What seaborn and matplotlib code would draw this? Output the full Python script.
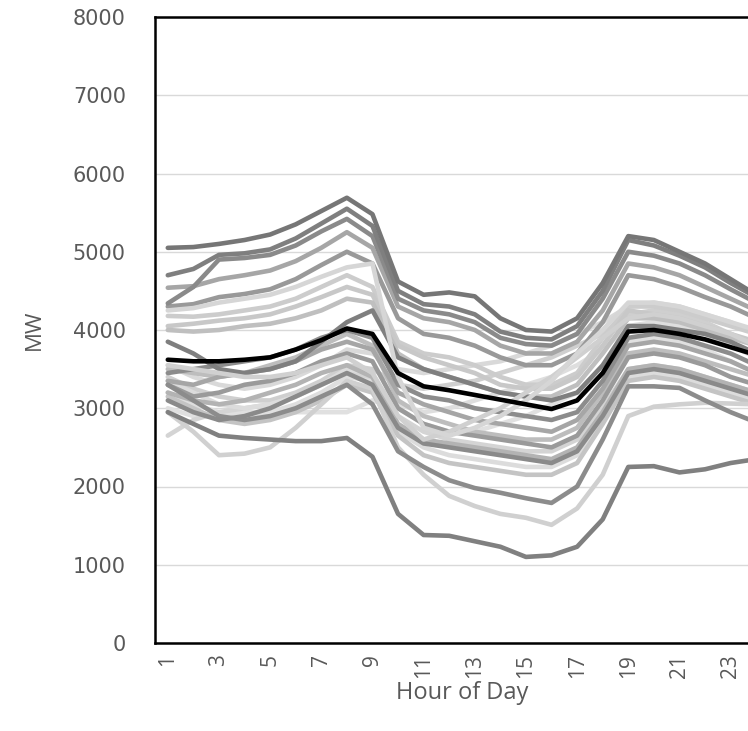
import matplotlib
matplotlib.use("Agg")
import pandas as pd
import matplotlib.pyplot as plt
import seaborn as sns

sns.set_style("white")
plt.rcParams['font.family'] = ['DejaVu Sans']

# ===== DATA =====
hours = list(range(1, 25))

d1 = [5050, 5060, 5100, 5150, 5220, 5350, 5520, 5690, 5480, 4620, 4450, 4480, 4430, 4150, 4000, 3980, 4150, 4600, 5200, 5150, 5000, 4850, 4650, 4450]
d2 = [4700, 4780, 4960, 4980, 5030, 5170, 5360, 5550, 5330, 4500, 4330, 4300, 4200, 3980, 3900, 3880, 4050, 4500, 5150, 5080, 4950, 4800, 4600, 4420]
d3 = [4340, 4550, 4900, 4920, 4960, 5080, 5260, 5420, 5200, 4400, 4250, 4200, 4100, 3900, 3820, 3800, 3950, 4400, 5000, 4950, 4850, 4700, 4520, 4350]
m1 = [4540, 4560, 4650, 4700, 4760, 4880, 5050, 5250, 5050, 4300, 4150, 4100, 4000, 3800, 3700, 3700, 3850, 4250, 4850, 4800, 4700, 4550, 4400, 4250]
m2 = [4300, 4330, 4420, 4460, 4520, 4650, 4830, 5000, 4850, 4150, 3950, 3900, 3800, 3650, 3550, 3550, 3700, 4100, 4700, 4650, 4550, 4420, 4300, 4150]
l1 = [4250, 4280, 4350, 4400, 4450, 4550, 4680, 4800, 4850, 3400, 2750, 2650, 2750, 2900, 3100, 3350, 3700, 4000, 4350, 4350, 4300, 4200, 4100, 4000]
l2 = [4180, 4170, 4200, 4250, 4300, 4400, 4550, 4700, 4550, 3850, 3700, 3650, 3550, 3400, 3300, 3300, 3450, 3900, 4300, 4300, 4250, 4150, 4050, 3950]
l3 = [4050, 4080, 4120, 4150, 4200, 4300, 4420, 4550, 4450, 3800, 3650, 3550, 3450, 3300, 3250, 3250, 3400, 3800, 4250, 4200, 4150, 4050, 3950, 3850]
l4 = [4000, 3980, 4000, 4050, 4080, 4150, 4250, 4400, 4350, 3700, 3500, 3400, 3300, 3200, 3150, 3150, 3300, 3700, 4150, 4150, 4100, 4000, 3900, 3800]
s1 = [3550, 3400, 3300, 3250, 3300, 3400, 3550, 3750, 3700, 3500, 3450, 3500, 3550, 3600, 3700, 3800, 3950, 4100, 4300, 4350, 4300, 4200, 4100, 3950]
s2 = [3400, 3250, 3150, 3100, 3100, 3200, 3350, 3550, 3500, 3300, 3250, 3300, 3350, 3450, 3550, 3650, 3800, 3950, 4200, 4250, 4200, 4100, 3950, 3800]
s3 = [3200, 3050, 2950, 2900, 2950, 3050, 3200, 3400, 3350, 3050, 2950, 3000, 3100, 3200, 3300, 3400, 3550, 3750, 4050, 4100, 4050, 3950, 3800, 3650]
s4 = [3000, 2900, 2950, 2950, 2950, 2950, 2950, 2950, 3100, 3000, 2800, 2700, 2700, 2800, 2900, 3050, 3200, 3450, 3850, 3900, 3850, 3750, 3600, 3450]
s5 = [2650, 2850, 2950, 3000, 3050, 3150, 3300, 3450, 3400, 2900, 2700, 2600, 2550, 2500, 2450, 2450, 2600, 3000, 3500, 3550, 3500, 3400, 3300, 3200]
w1 = [3850, 3700, 3500, 3450, 3500, 3600, 3850, 4100, 4250, 3650, 3500, 3400, 3300, 3200, 3150, 3100, 3200, 3550, 4050, 4050, 4000, 3950, 3850, 3700]
w2 = [3450, 3500, 3550, 3600, 3650, 3750, 3900, 4000, 3900, 3300, 3150, 3100, 3000, 2950, 2900, 2850, 2950, 3350, 3900, 3950, 3900, 3800, 3700, 3550]
w3 = [3350, 3300, 3400, 3450, 3500, 3600, 3750, 3850, 3750, 3200, 3050, 2950, 2850, 2800, 2750, 2700, 2850, 3250, 3800, 3850, 3800, 3700, 3600, 3450]
w4 = [3500, 3450, 3400, 3450, 3550, 3650, 3800, 3950, 3800, 3100, 2900, 2800, 2700, 2650, 2600, 2600, 2750, 3200, 3700, 3750, 3700, 3600, 3500, 3400]
w5 = [3300, 3150, 3200, 3300, 3350, 3450, 3600, 3700, 3600, 3000, 2800, 2700, 2650, 2600, 2550, 2500, 2650, 3100, 3650, 3700, 3650, 3550, 3400, 3300]
w6 = [3550, 3500, 3450, 3400, 3400, 3450, 3550, 3650, 3450, 2900, 2600, 2700, 2850, 3000, 3200, 3400, 3650, 3900, 4150, 4200, 4150, 4050, 3950, 3800]
w7 = [3200, 3100, 3050, 3100, 3200, 3300, 3450, 3550, 3400, 2800, 2600, 2550, 2500, 2450, 2400, 2350, 2500, 2950, 3500, 3550, 3500, 3400, 3300, 3200]
w8 = [3100, 2950, 2850, 2900, 3000, 3150, 3300, 3450, 3300, 2750, 2550, 2500, 2450, 2400, 2350, 2300, 2450, 2900, 3450, 3500, 3450, 3350, 3250, 3150]
w9 = [3350, 3200, 3050, 3000, 3050, 3150, 3300, 3500, 3450, 2700, 2500, 2400, 2350, 2300, 2250, 2250, 2400, 2850, 3400, 3450, 3400, 3300, 3200, 3100]
w10 = [3150, 3000, 2850, 2800, 2850, 2950, 3100, 3300, 3200, 2650, 2400, 2300, 2250, 2200, 2150, 2150, 2300, 2800, 3350, 3400, 3350, 3250, 3150, 3050]
b1 = [2950, 2800, 2650, 2620, 2600, 2580, 2580, 2620, 2380, 1650, 1380, 1370, 1300, 1230, 1100, 1120, 1230, 1580, 2250, 2260, 2180, 2220, 2300, 2350]
b2 = [3300, 3100, 2900, 2850, 2900, 3000, 3150, 3300, 3050, 2450, 2250, 2080, 1980, 1920, 1850, 1790, 2000, 2600, 3280, 3280, 3260, 3100, 2950, 2820]
b3 = [2950, 2700, 2400, 2420, 2500, 2750, 3050, 3350, 3250, 2500, 2150, 1880, 1750, 1650, 1600, 1510, 1720, 2150, 2900, 3020, 3050, 3070, 3060, 3050]

avg = [3620, 3600, 3600, 3620, 3650, 3750, 3870, 4020, 3950, 3450, 3280, 3230, 3170, 3110, 3050, 2990, 3100, 3450, 3980, 4000, 3950, 3880, 3780, 3680]

profiles = {
    "s1": s1, "s2": s2, "s3": s3, "s4": s4, "s5": s5,
    "l2": l2, "l3": l3, "l4": l4,
    "w9": w9, "w10": w10, "w4": w4, "w7": w7,
    "b3": b3, "w3": w3, "w5": w5, "m1": m1, "m2": m2,
    "b2": b2, "w8": w8, "w2": w2, "w1": w1,
    "d3": d3, "d2": d2, "d1": d1, "b1": b1,
    "w6": w6, "l1": l1,
}
colors = {
    "s1": "#d9d9d9", "s2": "#cfcfcf", "s3": "#dedede", "s4": "#e0e0e0", "s5": "#d4d4d4",
    "l1": "#d6d6d6", "l2": "#cccccc", "l3": "#c8c8c8", "l4": "#bfbfbf",
    "w9": "#dcdcdc", "w6": "#d0d0d0", "w10": "#c4c4c4", "w4": "#bdbdbd", "w7": "#b3b3b3",
    "b3": "#d0d0d0", "w3": "#a6a6a6", "w5": "#9a9a9a", "m1": "#a6a6a6", "m2": "#999999",
    "b2": "#8c8c8c", "w8": "#8a8a8a", "w2": "#8c8c8c", "w1": "#7f7f7f",
    "d3": "#8a8a8a", "d2": "#7f7f7f", "d1": "#767676", "b1": "#808080",
}

rows = []
for name, vals in profiles.items():
    for h, v in zip(hours, vals):
        rows.append({"hour": h, "MW": v, "profile": name})
df = pd.DataFrame(rows)

# ===== PLOT =====
fig = plt.figure(figsize=(7.48, 7.31), dpi=100)
ax = fig.add_axes([155 / 748, 88 / 731, 614 / 748, 626 / 731])

sns.lineplot(data=df, x="hour", y="MW", hue="profile", hue_order=list(profiles),
             palette=colors, linewidth=3.3, legend=False, errorbar=None, ax=ax)
sns.lineplot(x=hours, y=avg, color="black", linewidth=3.3, ax=ax)

ax.set_xlim(0.5, 24.5)
ax.set_ylim(0, 8000)
ax.set_yticks(range(0, 8001, 1000))
ax.set_xticks(range(1, 24, 2))
ax.set_xticklabels([str(h) for h in range(1, 24, 2)], rotation=90,
                   fontsize=15, family="Open Sans", color="#595959")
ax.tick_params(axis="y", labelsize=15, labelcolor="#595959", length=0, pad=21)
ax.tick_params(axis="x", length=0, pad=8)
ax.grid(axis="y", color="#d9d9d9", linewidth=1)
ax.set_axisbelow(True)
for side in ["left", "top", "bottom"]:
    ax.spines[side].set_color("black")
    ax.spines[side].set_linewidth(1.8)
ax.spines["right"].set_visible(False)

ax.set_xlabel("Hour of Day", fontsize=17, family="Open Sans", color="#595959", labelpad=2)
ax.set_ylabel("MW", fontsize=16, family="Open Sans", color="#595959", labelpad=20)

fig.savefig("out.png", dpi=100)
